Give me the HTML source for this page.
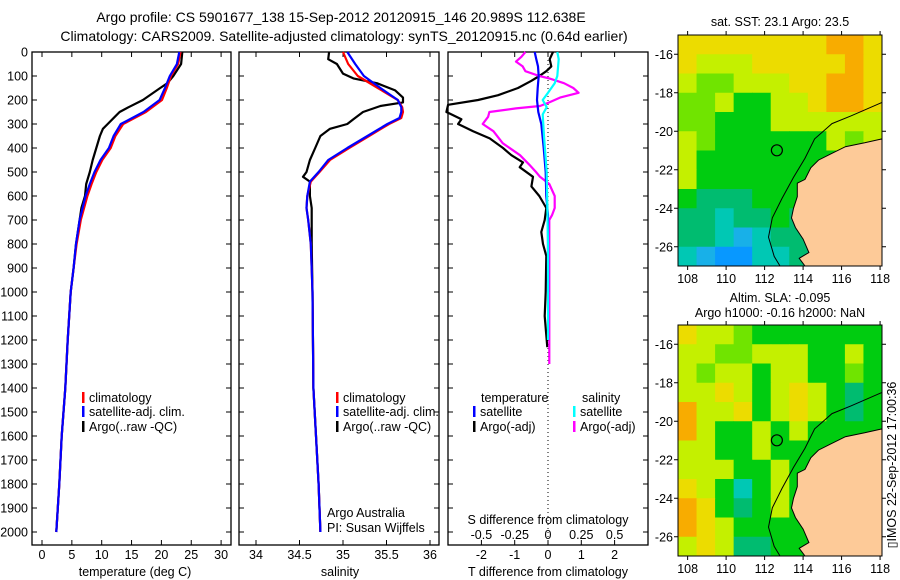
<!DOCTYPE html>
<html><head><meta charset="utf-8"><style>
body{margin:0;background:#fff;}
svg{display:block;font-family:"Liberation Sans",sans-serif;}
text{font-size:12.5px;fill:#000;}
</style></head><body>
<svg id="fig" width="900" height="580" viewBox="0 0 900 580">
<g id="static">
<text x="341" y="22" text-anchor="middle" style="font-size:14px">Argo profile: CS 5901677_138 15-Sep-2012 20120915_146 20.989S 112.638E</text>
<text x="344" y="41" text-anchor="middle" style="font-size:14px">Climatology: CARS2009. Satellite-adjusted climatology: synTS_20120915.nc (0.64d earlier)</text>
<text x="135" y="576" text-anchor="middle">temperature (deg C)</text>
<text x="340" y="576" text-anchor="middle">salinity</text>
<text x="548" y="576" text-anchor="middle">T difference from climatology</text>
<text x="548" y="524" text-anchor="middle">S difference from climatology</text>
<text x="327" y="517">Argo Australia</text>
<text x="327" y="532">PI: Susan Wijffels</text>
<text x="780" y="26" text-anchor="middle">sat. SST: 23.1 Argo: 23.5</text>
<text x="780" y="302" text-anchor="middle">Altim. SLA: -0.095</text>
<text x="780" y="317" text-anchor="middle">Argo h1000: -0.16 h2000: NaN</text>
<text transform="translate(896,465) rotate(-90)" text-anchor="middle">▯IMOS 22-Sep-2012 17:00:36</text>
</g>
<g id="dyn"></g>
</svg>
<script>
// ---- data ----
const depthTicks=[0,100,200,300,400,500,600,700,800,900,1000,1100,1200,1300,1400,1500,1600,1700,1800,1900,2000];
const tempTicks=[0,5,10,15,20,25,30];
const salTicks=[34,34.5,35,35.5,36];
const tdiffTicks=[-2,-1,0,1,2];
const sdiffTicks=[-0.5,-0.25,0,0.25,0.5];
const sdiffLabels=["-0.5","-0.25","0","0.25","0.5"];

const tDepth=[0,50,100,150,200,250,300,350,400,450,500,550,600,700,800,900,1000,1200,1400,1600,1800,2000];
const tSat=[23,22.6,21.4,20.6,19.7,17,13.2,12,11.2,9.8,8.8,8,7.3,6.3,5.7,5.3,4.8,4.3,3.9,3.3,2.9,2.4];
const tClim=[23.2,22.8,21.6,20.9,20.1,17.4,13.6,12.3,11.5,10.1,9.1,8.3,7.6,6.5,5.8,5.3,4.8,4.3,3.9,3.3,2.9,2.4];
const argoTDepth=[0,50,100,130,150,200,230,250,270,300,320,350,400,450,500,550,600,650,700,800,900,1000,1200,1400,1600,1800,2000];
const argoT=[23.5,23.3,22,21,19.8,16.9,14.5,13,12.2,11,10.2,9.7,9.1,8.5,8,7.4,7.2,6.6,6.3,5.7,5.3,4.8,4.3,3.9,3.3,2.9,2.4];

const sDepth=[0,50,100,150,200,230,250,275,300,350,400,450,500,540,600,650,700,800,1000,1400,1800,2000];
const sSat=[35.05,35.14,35.24,35.43,35.63,35.67,35.67,35.65,35.51,35.28,35.05,34.83,34.72,34.62,34.59,34.58,34.6,34.63,34.65,34.66,34.72,34.74];
const sClim=[35,35.06,35.17,35.4,35.63,35.68,35.69,35.67,35.53,35.3,35.07,34.85,34.73,34.63,34.59,34.58,34.6,34.63,34.65,34.66,34.72,34.74];
const argoSDepth=[0,30,50,90,110,130,160,190,210,225,250,280,300,320,350,400,450,500,520,540,600,650,700,800,1000,1400,1800,2000];
const argoS=[34.84,34.83,34.93,35,35.12,35.39,35.6,35.69,35.69,35.43,35.23,35.12,35.05,34.85,34.74,34.68,34.62,34.58,34.54,34.62,34.62,34.64,34.64,34.64,34.65,34.66,34.72,34.74];

const dTDepth=[0,30,60,100,150,200,250,300,400,500,600,680,800,1000];
const dTSat=[-0.4,-0.35,-0.3,-0.28,-0.31,-0.33,-0.29,-0.2,-0.13,-0.07,-0.05,0,0,0];
const dTArgoDepth=[0,30,60,80,100,120,150,180,200,220,250,260,280,300,330,360,400,430,460,480,520,560,600,650,700,750,800,850,1000,1100,1230];
const dTArgo=[0.15,0.05,0.1,-0.05,-0.26,-0.5,-0.9,-1.5,-2.1,-3.0,-3.05,-2.9,-2.6,-2.7,-2.25,-1.75,-1.35,-1.1,-0.75,-0.85,-0.45,-0.5,-0.26,-0.05,-0.1,-0.2,-0.15,-0.05,-0.07,-0.1,-0.02];
const dSSatDepth=[0,30,100,130,170,200,230,260,350,500,800,1200];
const dSSat=[0.07,0.08,0.07,0.05,0,-0.04,-0.01,-0.04,-0.03,-0.01,0,0];
const dSArgoDepth=[0,20,40,60,80,100,110,130,150,170,190,210,225,235,250,270,300,330,380,430,470,500,520,550,600,650,680,700,800,1000,1300];
const dSArgo=[-0.17,-0.2,-0.24,-0.19,-0.17,-0.065,0.01,0.12,0.19,0.23,0.09,0.01,-0.06,-0.24,-0.44,-0.45,-0.49,-0.41,-0.34,-0.21,-0.14,-0.09,-0.06,0.01,0.05,0.05,0.03,0.01,0.01,0.01,0.01];

// maps
const lonTicks=[108,110,112,114,116,118];
const latTicks=[-16,-18,-20,-22,-24,-26];
const argoLon=112.638, argoLat=-20.989;
const sstGrid=["YYYYYYYYOOY","YLLLYYYYYOY","LGGLLLYYOOY","GGLggLLYOOY","GGgggLLLLLL","LGggggggLGL","LggggggggGg","LgggggggTgg","gTTTgggTTgg","TTCTTgTTTgg","TTCBCTTCggg","CBDDCCTCggg"];
const slaGrid=["YLLGggggggg","LLGGLLLggLg","LGLLgLLggGg","LLYLgLYLgTg","OLLYgLYLgTg","OLggLgLgggg","LLggLgggggg","LLLggLggggg","YLgCgLggggg","OYgTgLggggg","OYLgggggggg","LYLTTgggggg"];
const coast=[[118.1,-20.4],[117.2,-20.6],[116.2,-20.8],[115.4,-21.2],[114.8,-21.5],[114.4,-21.9],[114.1,-22.5],[113.7,-22.7],[113.7,-23.4],[113.5,-24],[113.4,-24.5],[113.6,-25],[114,-25.6],[114.3,-26.3],[113.8,-26.6],[114.1,-27],[118.1,-27]];
const shelf=[[118.1,-18.5],[116.5,-19.2],[115.5,-19.6],[114.6,-20.4],[114.1,-21.4],[113.5,-22.4],[112.9,-23.5],[112.4,-24.5],[112.2,-25.5],[112.5,-26.5],[112.8,-27]];

// ---- drawing ----
const NS='http://www.w3.org/2000/svg';
const dyn=document.getElementById('dyn');
function mk(tag,attrs,parent){const e=document.createElementNS(NS,tag);for(const k in attrs)e.setAttribute(k,attrs[k]);(parent||dyn).appendChild(e);return e;}
const dy=d=>52+0.24*d;
const tx=t=>42+5.97*t;
const sx=s=>256+87*(s-34);
const dx=t=>548+33.3*t;
const sdx=s=>548+133.2*s;
const TOP=52,BOT=545;
const panels=[[32,231],[239,439],[448,648]];
panels.forEach((p,i)=>{
  const r=mk('rect',{x:p[0],y:TOP,width:p[1]-p[0],height:BOT-TOP,fill:'none',stroke:'#000','stroke-width':1.3});
  
  
  depthTicks.forEach(d=>{
    mk('line',{x1:p[0],x2:p[0]+5,y1:dy(d),y2:dy(d),stroke:'#000'});
    mk('line',{x1:p[1],x2:p[1]-5,y1:dy(d),y2:dy(d),stroke:'#000'});
  });
});
depthTicks.forEach(d=>{
  const t=mk('text',{x:28,y:dy(d)+4.5,'text-anchor':'end'});t.textContent=d;
  
  
});
function xticks(vals,f,labels,y){
  vals.forEach((v,i)=>{
    const x=f(v);
    mk('line',{x1:x,x2:x,y1:TOP,y2:TOP+5,stroke:'#000'});
    mk('line',{x1:x,x2:x,y1:BOT,y2:BOT-5,stroke:'#000'});
    const t=mk('text',{x:x,y:y,'text-anchor':'middle'});t.textContent=labels[i];
    
    
  });
}
xticks(tempTicks,tx,tempTicks,559);
xticks(salTicks,sx,salTicks,559);
xticks(tdiffTicks,dx,tdiffTicks,559);
sdiffTicks.forEach((v,i)=>{
  const t=mk('text',{x:sdx(v),y:539,'text-anchor':'middle'});t.textContent=sdiffLabels[i];
  
  
});
const zl=mk('line',{x1:548,x2:548,y1:TOP,y2:BOT,stroke:'#000','stroke-dasharray':'1,3'});



function line(xs,ds,fx,color,name,w){
  const pts=xs.map((v,i)=>fx(v).toFixed(1)+','+dy(ds[i]).toFixed(1)).join(' ');
  const e=mk('polyline',{points:pts,fill:'none',stroke:color,'stroke-width':w||2.2,'stroke-linejoin':'round'});
  
  
}
line(argoT,argoTDepth,tx,'#000','temp-argo-line');
line(tClim,tDepth,tx,'#f00','temp-climatology-line');
line(tSat,tDepth,tx,'#00f','temp-satellite-line');
line(argoS,argoSDepth,sx,'#000','sal-argo-line');
line(sClim,sDepth,sx,'#f00','sal-climatology-line');
line(sSat,sDepth,sx,'#00f','sal-satellite-line');
line(dTArgo,dTArgoDepth,dx,'#000','tdiff-argo-line');
line(dSArgo,dSArgoDepth,sdx,'#f0f','sdiff-argo-line');
line(dTSat,dTDepth,dx,'#00f','tdiff-satellite-line');
line(dSSat,dSSatDepth,sdx,'#0ff','sdiff-satellite-line');

function legend(x,y,color,label,name){
  const b=mk('rect',{x:x,y:y-10,width:2.5,height:11,fill:color});
  
  
  const t=mk('text',{x:x+7,y:y});t.textContent=label;
  
  
}
[[82],[336]].forEach(a=>{
  legend(a[0],402,'#f00','climatology','legend-climatology');
  legend(a[0],416,'#00f','satellite-adj. clim.','legend-satellite-adj');
  legend(a[0],431,'#000','Argo(..raw -QC)','legend-argo');
});
let tt=mk('text',{x:481,y:402});tt.textContent='temperature';


tt=mk('text',{x:582,y:402});tt.textContent='salinity';


legend(473,416,'#00f','satellite','legend-t-satellite');
legend(473,431,'#000','Argo(-adj)','legend-t-argo');
legend(573,416,'#0ff','satellite','legend-s-satellite');
legend(573,431,'#f0f','Argo(-adj)','legend-s-argo');

// maps
const pal={O:'#f8ac00',Y:'#ecdc00',L:'#c4f000',G:'#70e400',g:'#00cc10',T:'#00bc70',C:'#00c8b4',B:'#18b0e8',D:'#0898ff'};
function drawMap(top,grid,name){
  const L=678,R=882,B=top+231;
  const mx=lon=>L+(lon-107.5)*(R-L)/10.6;
  const my=lat=>top+(-15-lat)*(B-top)/12;
  const g=mk('g',{});
  
  
  const rows=grid.length;
  grid.forEach((row,r)=>{
    const cols=row.length;
    for(let c=0;c<cols;c++){
      const x0=L+c*(R-L)/cols,y0=top+r*(B-top)/rows;
      mk('rect',{x:x0,y:y0,width:(R-L)/cols+0.5,height:(B-top)/rows+0.5,fill:pal[row[c]]||'#00cc10'},g);
    }
  });
  const land=coast.map(p=>mx(p[0]).toFixed(1)+','+my(p[1]).toFixed(1)).join(' ');
  const lp=mk('polygon',{points:land,fill:'#fdca98',stroke:'#000','stroke-width':1},g);
  
  
  const sp=mk('polyline',{points:shelf.map(p=>mx(p[0]).toFixed(1)+','+my(p[1]).toFixed(1)).join(' '),fill:'none',stroke:'#000','stroke-width':1},g);
  
  
  const ci=mk('circle',{cx:mx(argoLon),cy:my(argoLat),r:5.5,fill:'none',stroke:'#000','stroke-width':1.2},g);
  
  
  mk('rect',{x:L,y:top,width:R-L,height:B-top,fill:'none',stroke:'#000','stroke-width':1},g);
  lonTicks.forEach(v=>{
    const x=mx(v);
    mk('line',{x1:x,x2:x,y1:top,y2:top-4,stroke:'#000'},g);
    mk('line',{x1:x,x2:x,y1:B,y2:B+4,stroke:'#000'},g);
    const t=mk('text',{x:x,y:B+17,'text-anchor':'middle'},g);t.textContent=v;
    
    
  });
  latTicks.forEach(v=>{
    const y=my(v);
    mk('line',{x1:L,x2:L-4,y1:y,y2:y,stroke:'#000'},g);
    mk('line',{x1:R,x2:R+4,y1:y,y2:y,stroke:'#000'},g);
    const t=mk('text',{x:673,y:y+4.5,'text-anchor':'end'},g);t.textContent=v;
    
    
  });
}
drawMap(35,sstGrid,'sst-map');
drawMap(325,slaGrid,'sla-map');
</script>
</body></html>
